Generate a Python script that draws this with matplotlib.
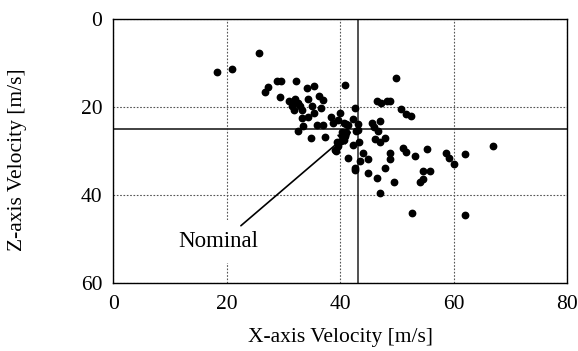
import matplotlib
matplotlib.use("Agg")
import matplotlib.pyplot as plt

plt.rcParams['font.family'] = ['Liberation Serif', 'DejaVu Serif']

x_vals = [18.3, 20.9, 25.7, 26.8, 27.3, 28.8, 29.6, 29.4, 32.2, 34.1, 35.4, 36.2, 36.9, 40.9,
          31.0, 32.0, 32.5, 31.5, 31.8, 33.2, 34.4, 35.0, 36.6, 35.4, 33.2, 34.4, 33.4, 32.5,
          34.8, 35.9, 36.9, 37.3, 38.3, 38.7, 40.0, 39.7, 40.6, 41.3, 42.6, 33.0, 31.8,
          42.2, 41.0, 43.2, 43.2, 42.8, 40.3, 40.6, 39.4, 39.1, 39.6, 40.2, 40.8, 41.1, 39.2,
          42.3, 43.4, 44.1, 44.9, 43.5, 42.6, 42.6, 41.3, 44.9, 46.5, 47.0,
          45.6, 47.0, 45.9, 46.7, 46.2, 47.0, 47.9,
          46.5, 47.2, 48.2, 48.8, 49.8,
          50.7, 51.6, 52.5,
          48.8, 48.8, 47.9, 49.5,
          51.1, 51.6, 53.2, 55.3,
          54.6, 55.9, 54.6, 54.0, 52.6,
          58.7, 59.2, 60.0, 62.0, 62.1, 67.0]
z_vals = [12.0, 11.4, 7.8, 16.5, 15.5, 14.2, 14.2, 17.7, 14.2, 15.8, 15.2, 17.5, 18.4, 15.0,
          18.6, 18.3, 19.0, 19.9, 20.7, 20.7, 18.3, 19.9, 20.3, 21.3, 22.6, 22.2, 24.3, 25.4,
          27.1, 24.1, 24.1, 26.9, 22.3, 23.7, 21.4, 23.0, 23.7, 24.1, 20.2, 19.8, 19.2,
          22.7, 23.9, 23.9, 25.2, 25.5, 25.6, 27.5, 27.9, 29.8, 28.9, 27.8, 26.6, 25.7, 30.0,
          28.6, 27.9, 30.4, 31.9, 32.4, 33.9, 34.3, 31.7, 35.1, 36.1, 39.5,
          23.7, 23.3, 24.5, 25.5, 27.3, 27.9, 27.1,
          18.6, 19.0, 18.7, 18.6, 13.5,
          20.5, 21.6, 22.0,
          30.4, 31.9, 33.9, 37.0,
          29.4, 30.2, 31.1, 29.6,
          34.5, 34.5, 36.4, 37.1, 44.0,
          30.4, 31.5, 33.0, 30.7, 44.6, 28.9]

nominal_x = 43.2
nominal_z = 25.1
x_ticks = [0, 20, 40, 60, 80]
z_ticks = [0, 20, 40, 60]

fig = plt.figure(figsize=(5.78, 3.51), dpi=100)
ax = fig.add_axes([0.196, 0.194, 0.785, 0.752])

ax.plot(x_vals, z_vals, 'o', color='black', markersize=4.6, zorder=5)

ax.axvline(nominal_x, color='#222222', lw=1.1, zorder=2)
ax.axhline(nominal_z, color='#333333', lw=1.3, zorder=2)

ax.set_xlim(0, 80)
ax.set_ylim(60, 0)
ax.set_xticks(x_ticks)
ax.set_yticks(z_ticks)
ax.grid(True, color='#555555', linestyle=(0, (1.5, 1.5)), lw=0.8)
ax.tick_params(length=0, labelsize=15.5)
ax.tick_params(axis='x', pad=9)
ax.tick_params(axis='y', pad=8)
for s in ax.spines.values():
    s.set_linewidth(1.0)

ax.set_xlabel('X-axis Velocity [m/s]', fontsize=15.5, labelpad=10)
ax.set_ylabel('Z-axis Velocity [m/s]', fontsize=15.5)
ax.yaxis.set_label_coords(-0.19, 0.466)

ax.text(18.5, 50.6, 'Nominal', fontsize=16.5, ha='center', va='center', zorder=3,
        bbox=dict(facecolor='white', edgecolor='none', pad=8))
ax.annotate('', xy=(42.0, 25.5), xytext=(22.5, 47.0), zorder=4,
            arrowprops=dict(arrowstyle='-|>', color='black', lw=1.2,
                            mutation_scale=20, shrinkA=0, shrinkB=0))

fig.savefig('out.png', dpi=100)
